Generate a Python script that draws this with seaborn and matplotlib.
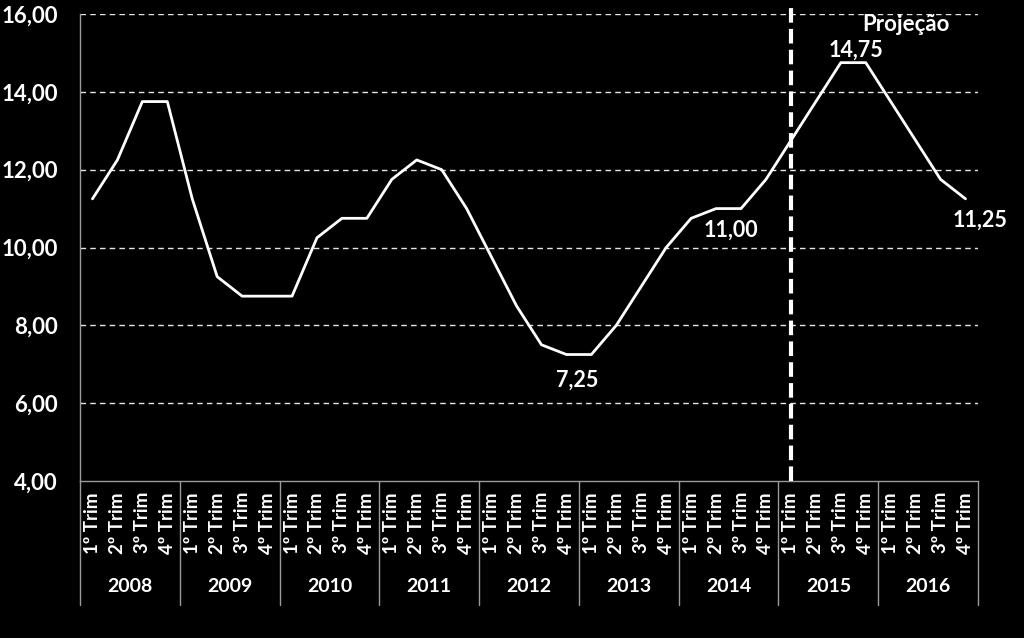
import matplotlib
matplotlib.use("Agg")
import matplotlib.pyplot as plt
import matplotlib.transforms as mtransforms
import seaborn as sns
import pandas as pd
import numpy as np

years = ["2008", "2009", "2010", "2011", "2012", "2013", "2014", "2015", "2016"]
quarters = ["1º Trim", "2º Trim", "3º Trim", "4º Trim"]
selic = [11.25, 12.25, 13.75, 13.75,
         11.25, 9.25, 8.75, 8.75,
         8.75, 10.25, 10.75, 10.75,
         11.75, 12.25, 12.00, 11.00,
         9.75, 8.50, 7.50, 7.25,
         7.25, 8.00, 9.00, 10.00,
         10.75, 11.00, 11.00, 11.75,
         12.75, 13.75, 14.75, 14.75,
         13.75, 12.75, 11.75, 11.25]
ytick_vals = [4, 6, 8, 10, 12, 14, 16]
ytick_labels = ["4,00", "6,00", "8,00", "10,00", "12,00", "14,00", "16,00"]
annotations = [(30, 14.75, "14,75"), (25.5, 11.00, "11,00"), (20, 7.25, "7,25"), (35, 11.25, "11,25")]
projection_start = 28
projection_label = "Projeção"

sns.set_style("dark")
plt.rcParams["font.family"] = ["Lato", "DejaVu Sans"]

quarter_labels = [q for y in years for q in quarters]
df = pd.DataFrame({"pos": np.arange(len(selic)), "selic": selic})

fig = plt.figure(figsize=(10.24, 6.38), dpi=100, facecolor="black")
ax = fig.add_axes([80 / 1024, 1 - 481 / 638, (978 - 80) / 1024, (481 - 14) / 638])
ax.set_facecolor("black")

sns.lineplot(data=df, x="pos", y="selic", color="white", linewidth=2.0, ax=ax)

ax.set_xlim(-0.5, len(selic) - 0.5)
ax.set_ylim(4, 16)
ax.set_yticks(ytick_vals)
ax.set_yticklabels(ytick_labels, color="white", fontsize=16, fontweight="bold")
ax.set_xticks(np.arange(len(selic)))
ax.set_xticklabels(quarter_labels, rotation=90, color="white", fontsize=13.5, fontweight="bold")
ax.tick_params(axis="both", length=0)
ax.tick_params(axis="y", pad=16)
ax.tick_params(axis="x", pad=8)
ax.set_xlabel("")
ax.set_ylabel("")

ax.grid(False)
for v in ytick_vals[1:]:
    ax.axhline(v, color="#e6e6e6", linewidth=1.0, linestyle=(0, (4, 3)), zorder=0)

for s in ["top", "right"]:
    ax.spines[s].set_visible(False)
for s in ["left", "bottom"]:
    ax.spines[s].set_color("#9a9a9a")
    ax.spines[s].set_linewidth(1.0)

trans = mtransforms.blended_transform_factory(ax.transData, ax.transAxes)
for i in range(len(years) + 1):
    xb = i * 4 - 0.5
    ax.plot([xb, xb], [0, -0.265], transform=trans, color="#9a9a9a", linewidth=1.0, clip_on=False)
for i, y in enumerate(years):
    ax.text(i * 4 + 1.5, -0.225, y, transform=trans, ha="center", va="center",
            color="white", fontsize=14, fontweight="bold")

ax.plot([projection_start, projection_start], [0, 1.02], transform=trans, color="white",
        linewidth=3.0, linestyle=(0, (3.5, 1.5)), clip_on=False, zorder=5)
ax.text(32.6, 15.72, projection_label, ha="center", va="center", color="white",
        fontsize=16, fontweight="bold", clip_on=False)

label_offsets = {"14,75": (0.6, 0.33), "11,00": (0.1, -0.55), "7,25": (-0.55, -0.65), "11,25": (0.6, -0.55)}
for x, y, t in annotations:
    dx, dy = label_offsets[t]
    ax.text(x + dx, y + dy, t, ha="center", va="center", color="white", fontsize=15.5,
            fontweight="bold", clip_on=False)

fig.savefig("out.png", dpi=100, facecolor="black")
